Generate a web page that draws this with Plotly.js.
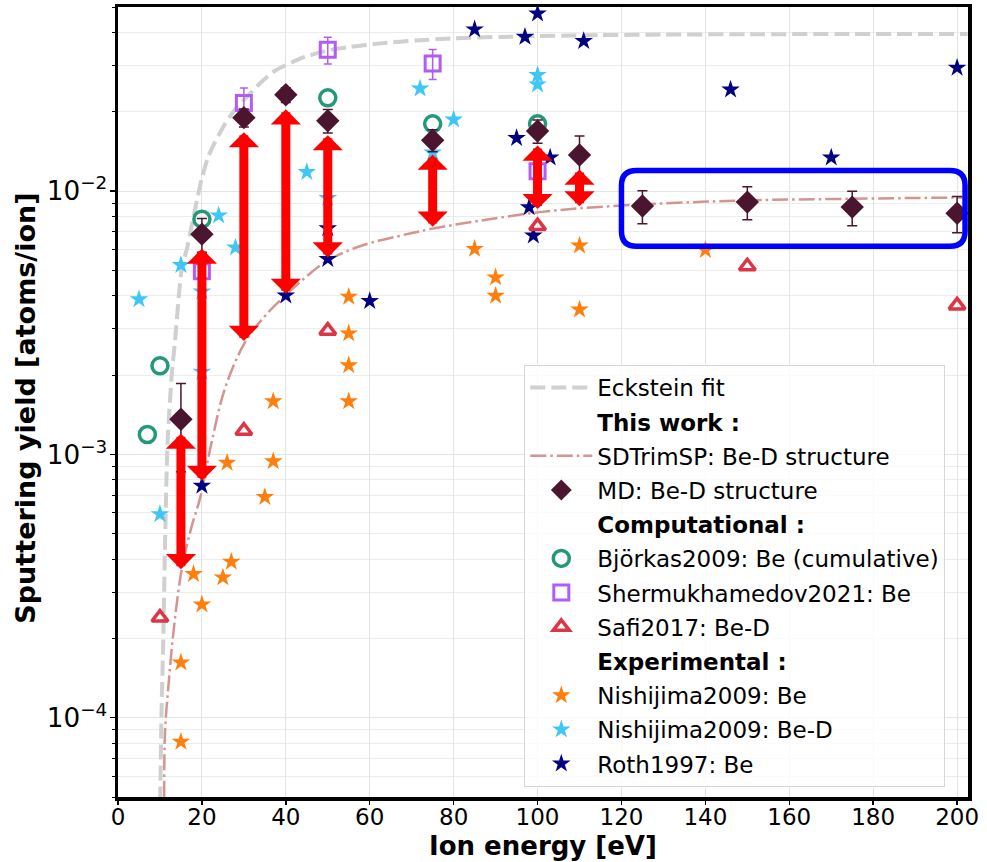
<!DOCTYPE html>
<html>
<head>
<meta charset="utf-8">
<script src="https://cdn.plot.ly/plotly-3.0.1.min.js"></script>
<style>
  html, body { margin: 0; padding: 0; background: #ffffff; }
  #chart { width: 987px; height: 862px; }
</style>
</head>
<body>
<div id="chart"></div>
<script>
// ---- Eckstein fit ----
const ecksteinE = [10.05, 10.4, 10.8, 11.2, 11.8, 12.8, 13.5, 15.2, 16.5, 17.5, 18.8, 20, 21.5, 23, 25.5, 28, 30.5, 34, 37.5, 44, 50, 55, 62, 71, 80, 91, 100, 115, 130, 150, 175, 202.5];
const ecksteinY = [4.8e-5, 1.1e-4, 2.0e-4, 4.5e-4, 1.1e-3, 2.0e-3, 2.6e-3, 5.1e-3, 6.1e-3, 7.3e-3, 9.2e-3, 0.0112, 0.0135, 0.0152, 0.0180, 0.0205, 0.0226, 0.0258, 0.0287, 0.0321, 0.0342, 0.0352, 0.0363, 0.0373, 0.0380, 0.0385, 0.0388, 0.0391, 0.0393, 0.0394, 0.0395, 0.0395];

// ---- SDTrimSP: Be-D structure ----
const sdE = [11.0, 11.2, 12.0, 13.2, 15.2, 17.6, 19.5, 22.3, 25.5, 30.3, 35, 40, 45, 50, 58, 67, 75, 87, 100, 110, 125, 139, 150, 175, 202.5];
const sdY = [5.0e-5, 8.8e-5, 1.31e-4, 2.1e-4, 3.67e-4, 5.36e-4, 6.76e-4, 1.11e-3, 1.78e-3, 2.67e-3, 3.35e-3, 4.03e-3, 4.75e-3, 5.45e-3, 6.2e-3, 6.75e-3, 7.2e-3, 7.75e-3, 8.3e-3, 8.6e-3, 8.9e-3, 9.1e-3, 9.22e-3, 9.35e-3, 9.46e-3];

// ---- MD: Be-D structure ----
const mdE = [15, 20, 30, 40, 50, 75, 100, 110, 125, 150, 175, 200];
const mdY = [1.36e-3, 6.86e-3, 0.0190, 0.0232, 0.0185, 0.0156, 0.0169, 0.0137, 8.77e-3, 9.08e-3, 8.69e-3, 8.24e-3];
const mdErr = [0.5e-3, 1.0e-3, 1.5e-3, 1.5e-3, 1.9e-3, 1.5e-3, 1.7e-3, 2.5e-3, 1.25e-3, 1.3e-3, 1.3e-3, 1.3e-3];

// ---- MD -> SDTrimSP difference arrows ----
const arrowE = [15, 20, 30, 40, 50, 75, 100, 110];
const arrowTop = [1.36e-3, 6.86e-3, 0.0190, 0.0232, 0.0185, 0.0156, 0.0169, 0.0137];
const arrowBottom = [3.6e-4, 7.8e-4, 2.65e-3, 4.0e-3, 5.5e-3, 7.2e-3, 8.4e-3, 8.6e-3];

// ---- Computational ----
const bjorkasE = [7, 10, 20, 50, 75, 100];
const bjorkasY = [1.19e-3, 2.17e-3, 7.82e-3, 0.0226, 0.0180, 0.0180];

const shermE = [20, 30, 50, 75, 100];
const shermY = [4.96e-3, 0.0216, 0.0344, 0.0305, 0.0119];
const shermErr = [0.0008, 0.003, 0.004, 0.004, 0.0015];

const safiE = [10, 30, 50, 100, 150, 200];
const safiY = [2.40e-4, 1.23e-3, 2.95e-3, 7.36e-3, 5.18e-3, 3.68e-3];

// ---- Experimental ----
const nishBeE = [15, 15, 18, 20, 25, 27, 26, 35, 37, 37, 55, 55, 55, 55, 85, 90, 90, 110, 110, 140];
const nishBeY = [8.1e-5, 1.62e-4, 3.51e-4, 2.69e-4, 3.41e-4, 3.91e-4, 9.29e-4, 6.89e-4, 9.42e-4, 1.59e-3, 1.59e-3, 2.18e-3, 2.88e-3, 3.97e-3, 6.03e-3, 4.7e-3, 4.0e-3, 6.21e-3, 3.55e-3, 5.97e-3];

const nishBeDE = [5, 10, 15, 20, 20, 24, 28, 45, 50, 72, 75, 80, 100, 100];
const nishBeDY = [3.88e-3, 5.93e-4, 5.24e-3, 4.15e-3, 2.06e-3, 8.08e-3, 6.10e-3, 0.0118, 9.4e-3, 0.0245, 0.0140, 0.0187, 0.0276, 0.0254];

const rothE = [20, 40, 50, 50, 60, 85, 97, 100, 111, 95, 103, 98, 99, 146, 170, 200];
const rothY = [7.60e-4, 4.01e-3, 5.52e-3, 7.22e-3, 3.82e-3, 0.0411, 0.0385, 0.0472, 0.0371, 0.0159, 0.0134, 8.67e-3, 6.78e-3, 0.0243, 0.0134, 0.0294];

// ---- highlighted high-energy region ----
const boxE = [120, 201.9];
const boxY = [6.17e-3, 0.01197];

const FONT = 'DejaVu Sans, Verdana, sans-serif';
const MAROON = '#4b1530';

function header(name, rank) {
  return {
    x: [null], y: [null], type: 'scatter', mode: 'markers',
    marker: { color: 'rgba(0,0,0,0)', size: 1 },
    name: name, legendrank: rank, legendgroup: 'g' + rank, hoverinfo: 'skip'
  };
}

const starStyle = (c) => ({ symbol: 'star', size: 14, color: c, line: { width: 0 } });

const traces = [
  {
    x: ecksteinE, y: ecksteinY, type: 'scatter', mode: 'lines', name: 'Eckstein fit',
    line: { color: '#d0d0d0', width: 4, dash: '15px,6px', shape: 'spline', smoothing: 0.6 },
    legendrank: 1, legendgroup: 'g1'
  },
  header('<b>This work :</b>', 2),
  {
    x: sdE, y: sdY, type: 'scatter', mode: 'lines', name: 'SDTrimSP: Be-D structure',
    line: { color: '#d4948f', width: 2.5, dash: '16px,4px,2.5px,4px', shape: 'spline', smoothing: 1 },
    legendrank: 3, legendgroup: 'g3'
  },
  header('<b>Computational :</b>', 5),
  header('<b>Experimental :</b>', 9),
  {
    x: nishBeE, y: nishBeY, type: 'scatter', mode: 'markers', name: 'Nishijima2009: Be',
    marker: starStyle('#ff7f0e'), legendrank: 10, legendgroup: 'g10'
  },
  {
    x: nishBeDE, y: nishBeDY, type: 'scatter', mode: 'markers', name: 'Nishijima2009: Be-D',
    marker: starStyle('#3ec6f5'), legendrank: 11, legendgroup: 'g11'
  },
  {
    x: rothE, y: rothY, type: 'scatter', mode: 'markers', name: 'Roth1997: Be',
    marker: starStyle('#000080'), legendrank: 12, legendgroup: 'g12'
  },
  {
    x: safiE, y: safiY, type: 'scatter', mode: 'markers', name: 'Safi2017: Be-D',
    marker: { symbol: 'triangle-up-open', size: 14, color: '#dc3545', line: { width: 3.5, color: '#dc3545' } },
    legendrank: 8, legendgroup: 'g8'
  },
  {
    x: shermE, y: shermY, type: 'scatter', mode: 'markers', name: 'Shermukhamedov2021: Be',
    marker: { symbol: 'square-open', size: 15, color: '#b35cf5', line: { width: 3, color: '#b35cf5' } },
    error_y: { type: 'data', array: shermErr, visible: true, color: '#b35cf5', thickness: 1.5, width: 4 },
    legendrank: 7, legendgroup: 'g7'
  },
  {
    x: bjorkasE, y: bjorkasY, type: 'scatter', mode: 'markers', name: 'Björkas2009: Be (cumulative)',
    marker: { symbol: 'circle-open', size: 16, color: '#23987a', line: { width: 3.5, color: '#23987a' } },
    legendrank: 6, legendgroup: 'g6'
  },
  {
    x: mdE, y: mdY, type: 'scatter', mode: 'markers', name: 'MD: Be-D structure',
    marker: { symbol: 'diamond', size: 18, color: MAROON, line: { width: 0 } },
    error_y: { type: 'data', array: mdErr, visible: true, color: MAROON, thickness: 1.5, width: 5 },
    legendrank: 4, legendgroup: 'g4'
  }
];

// double-headed arrows from each MD value down to the SDTrimSP value
const annotations = arrowE.map((e, i) => ({
  x: e, y: Math.log10(arrowBottom[i]),
  ax: e, ay: Math.log10(arrowTop[i]),
  xref: 'x', yref: 'y', axref: 'x', ayref: 'y',
  text: '', showarrow: true,
  arrowside: 'end+start',
  arrowhead: 1, startarrowhead: 1,
  arrowwidth: 9, arrowsize: 0.56, startarrowsize: 0.56,
  arrowcolor: '#ff0000',
  standoff: 2, startstandoff: 13
}));

// axis titles
annotations.push({
  xref: 'paper', yref: 'paper', x: 0.5, y: -0.062, xanchor: 'center', yanchor: 'middle',
  text: '<b>Ion energy [eV]</b>', showarrow: false,
  font: { family: FONT, size: 26, color: '#000000' }
});
annotations.push({
  xref: 'paper', yref: 'paper', x: -0.109, y: 0.492, xanchor: 'center', yanchor: 'middle',
  text: '<b>Sputtering yield [atoms/ion]</b>', showarrow: false, textangle: -90,
  font: { family: FONT, size: 27, color: '#000000' }
});

// rounded rectangle around the high-energy MD points
const rx = 3.6, ry = 1.14;
const [bx0, bx1] = boxE, [by0, by1] = boxY;
const boxPath =
  `M${bx0 + rx},${by1} L${bx1 - rx},${by1} Q${bx1},${by1} ${bx1},${by1 / ry} ` +
  `L${bx1},${by0 * ry} Q${bx1},${by0} ${bx1 - rx},${by0} ` +
  `L${bx0 + rx},${by0} Q${bx0},${by0} ${bx0},${by0 * ry} ` +
  `L${bx0},${by1 / ry} Q${bx0},${by1} ${bx0 + rx},${by1} Z`;

const layout = {
  width: 987, height: 862,
  margin: { l: 118, r: 19, t: 7, b: 65 },
  paper_bgcolor: '#ffffff', plot_bgcolor: '#ffffff',
  font: { family: FONT, color: '#000000' },
  showlegend: true,
  xaxis: {
    range: [0, 202.6], tick0: 0, dtick: 20,
    ticks: 'outside', ticklen: 4, tickwidth: 1.5, tickcolor: '#000000',
    ticklabelstandoff: -7,
    tickfont: { family: FONT, size: 23, color: '#000000' },
    showline: true, linewidth: 3.5, linecolor: '#000000', mirror: true,
    showgrid: true, gridcolor: '#e4e4e4', gridwidth: 1, zeroline: false
  },
  yaxis: {
    type: 'log', range: [Math.log10(5e-5), Math.log10(0.05)],
    dtick: 1, exponentformat: 'power', showexponent: 'all',
    ticks: 'outside', ticklen: 5, tickwidth: 1.5, tickcolor: '#000000',
    ticklabelstandoff: -2,
    tickfont: { family: FONT, size: 21, color: '#000000' },
    showline: true, linewidth: 3.5, linecolor: '#000000', mirror: true,
    showgrid: true, gridcolor: '#e4e4e4', gridwidth: 1, zeroline: false,
    minor: { dtick: 'D1', ticks: 'outside', ticklen: 3, tickwidth: 1, tickcolor: '#000000', showgrid: true, gridcolor: '#ececec', gridwidth: 1 }
  },
  legend: {
    x: 0.478, y: 0.0127, xanchor: 'left', yanchor: 'bottom',
    bgcolor: 'rgba(255,255,255,0.8)', bordercolor: '#d6d6d6', borderwidth: 1,
    font: { family: FONT, size: 23, color: '#000000' },
    traceorder: 'grouped', tracegroupgap: 1.3, itemwidth: 62
  },
  shapes: [{
    type: 'path', xref: 'x', yref: 'y', path: boxPath,
    line: { color: '#0000ff', width: 5.5 }, fillcolor: 'rgba(0,0,0,0)', layer: 'above'
  }],
  annotations: annotations
};

Plotly.newPlot('chart', traces, layout, { displayModeBar: false, staticPlot: true });
</script>
</body>
</html>
